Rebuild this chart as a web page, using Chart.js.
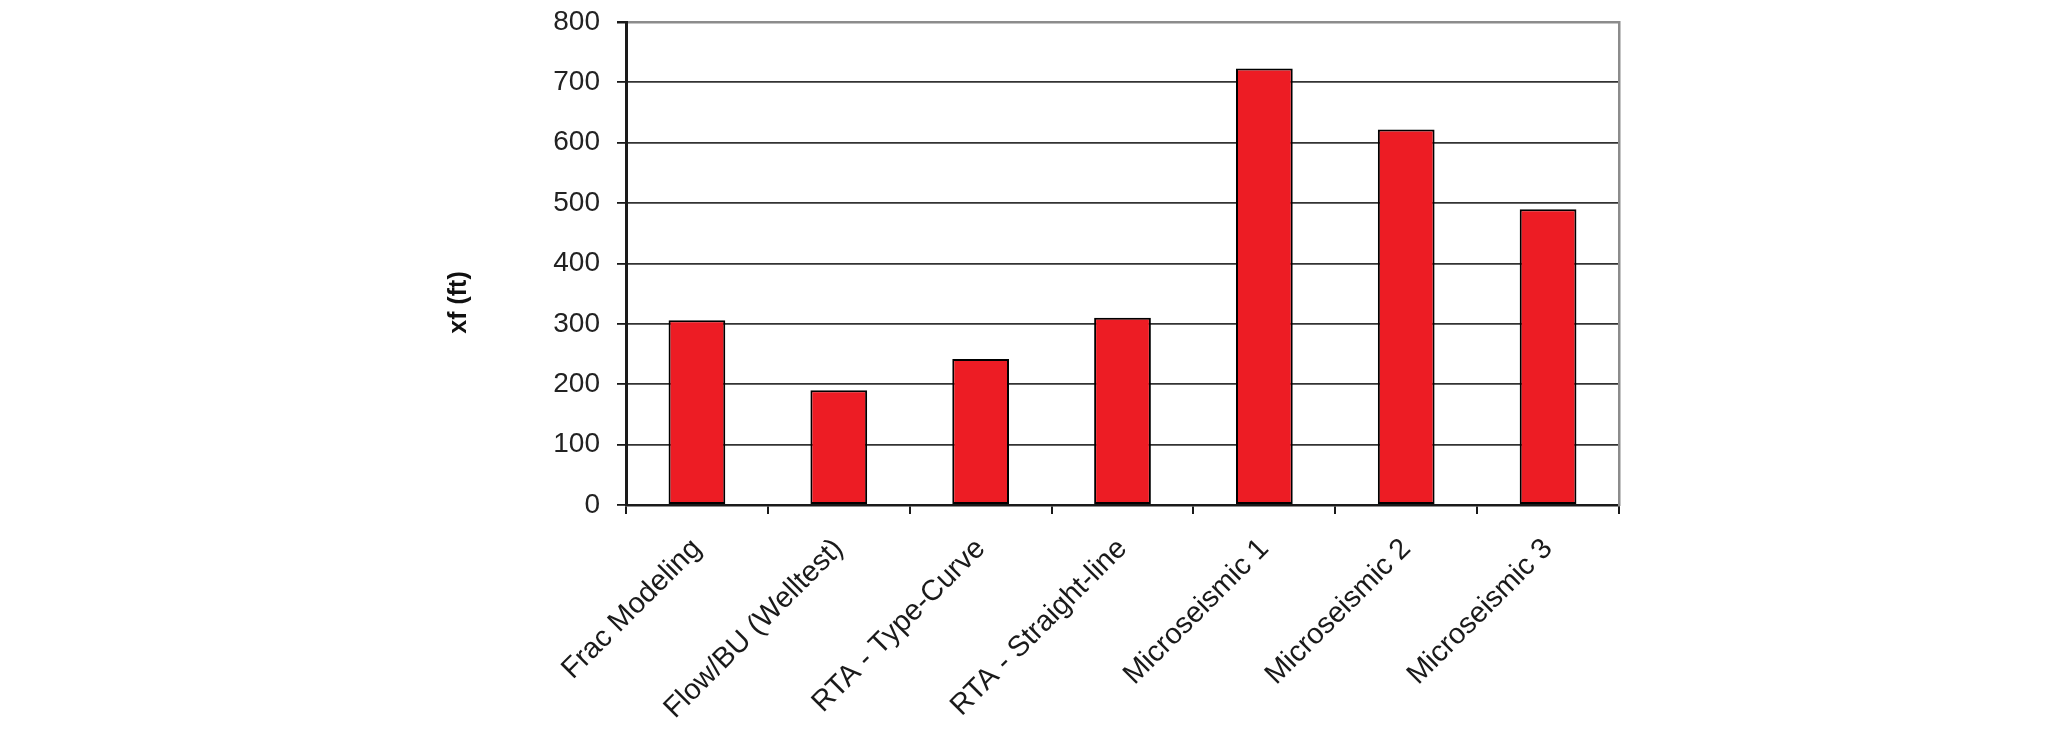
<!DOCTYPE html>
<html>
<head>
<meta charset="utf-8">
<script src="https://cdn.jsdelivr.net/npm/chart.js@4"></script>
<style>
  html, body { margin:0; padding:0; background:#fff; }
  #wrap { width:2067px; height:729px; position:relative; }
</style>
</head>
<body>
<div id="wrap"><canvas id="chartXf"></canvas></div>
<script>
// xf estimates by method
const categories = ['Frac Modeling', 'Flow/BU (Welltest)', 'RTA - Type-Curve', 'RTA - Straight-line',
  'Microseismic 1', 'Microseismic 2', 'Microseismic 3'];
const xfValues = [306, 190, 242, 310, 723, 622, 490];
const yTicks = [0, 100, 200, 300, 400, 500, 600, 700, 800];
const yTitle = 'xf (ft)';

const fontFamily = '"Liberation Sans", Arial, sans-serif';
const axisDark = '#1a1a1a';
const gridDark = '#333333';
const frameGray = '#8c8c8c';

// y title sits a bit below the plot centre, like the original
const yTitlePlugin = {
  id: 'yTitle',
  afterDraw(chart) {
    const { ctx, chartArea } = chart;
    ctx.save();
    ctx.translate(459, (chartArea.top + chartArea.bottom) / 2 + 39);
    ctx.rotate(-Math.PI / 2);
    ctx.font = 'bold 25px ' + fontFamily;
    ctx.fillStyle = '#111';
    ctx.textAlign = 'center';
    ctx.textBaseline = 'middle';
    ctx.fillText(yTitle, 0, 0);
    ctx.restore();
  }
};

new Chart(document.getElementById('chartXf'), {
  type: 'bar',
  data: {
    labels: categories,
    datasets: [{
      data: xfValues,
      backgroundColor: '#ED1C24',
      borderColor: '#000',
      borderWidth: 2,
      borderSkipped: false,
      barPercentage: 0.4,
      categoryPercentage: 1
    }]
  },
  options: {
    responsive: true,
    maintainAspectRatio: false,
    animation: false,
    layout: { padding: { top: 22, right: 448, bottom: 0, left: 0 } },
    plugins: { legend: { display: false }, tooltip: { enabled: false } },
    scales: {
      x: {
        grid: { offset: true, drawOnChartArea: false, drawTicks: true, tickLength: 9, color: axisDark, lineWidth: 2 },
        border: { color: axisDark, width: 2.5 },
        ticks: {
          color: '#1a1a1a', font: { family: fontFamily, size: 29 },
          minRotation: 45, maxRotation: 45, padding: 18, autoSkip: false
        },
        afterFit: s => { s.height = 224; }
      },
      y: {
        min: 0, max: 800,
        afterBuildTicks: s => { s.ticks = yTicks.map(v => ({ value: v })); },
        grid: {
          color: ctx => ctx.tick && ctx.tick.value === 800 ? frameGray : gridDark,
          lineWidth: ctx => ctx.tick && ctx.tick.value === 800 ? 2.5 : 1.8,
          tickLength: 9, tickColor: axisDark
        },
        border: { color: axisDark, width: 3 },
        ticks: { color: '#222', font: { family: fontFamily, size: 28 }, padding: 17 },
        afterFit: s => { s.width = 626; s.paddingTop = 0; s.paddingBottom = 0; }
      },
      yRight: {
        position: 'right', min: 0, max: 800,
        grid: { display: false, drawTicks: false },
        ticks: { display: false },
        border: { color: frameGray, width: 2.5 },
        afterFit: s => { s.width = 0; s.paddingTop = 0; s.paddingBottom = 0; }
      }
    }
  },
  plugins: [yTitlePlugin]
});
</script>
</body>
</html>
